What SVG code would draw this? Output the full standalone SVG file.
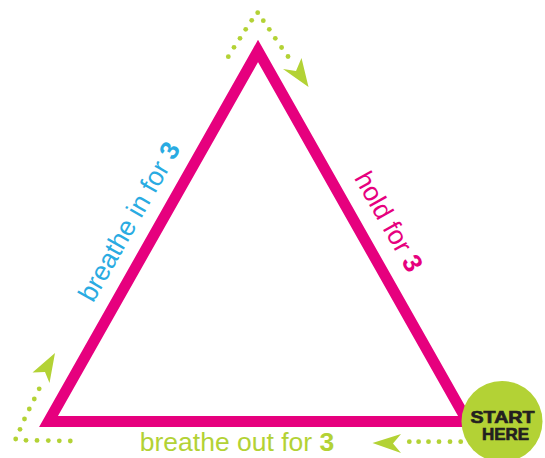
<svg xmlns="http://www.w3.org/2000/svg" width="545" height="458" viewBox="0 0 545 458">
<style>
.dot{fill:#b3d235}
.head{fill:#b3d235}
.lbl{font-family:"Liberation Sans",Arial,sans-serif;font-size:26.5px}
.num{font-weight:bold}
.start{font-family:"Liberation Sans",Arial,sans-serif;font-size:17px;font-weight:bold;fill:#231f20;stroke:#231f20;stroke-width:0.7}
</style>
<rect width="545" height="458" fill="#ffffff"/>
<g id="triangle">
<polygon points="258,51 48.5,421.5 467.5,421.5" fill="none" stroke="#e6007e" stroke-width="11" stroke-linejoin="miter" stroke-miterlimit="6"/>
</g>
<g id="connectors">
<g id="arrow-top">
<circle class="dot" cx="228.3" cy="56.7" r="2.4"/>
<circle class="dot" cx="234" cy="47.3" r="2.4"/>
<circle class="dot" cx="240" cy="38.3" r="2.4"/>
<circle class="dot" cx="245.7" cy="29.3" r="2.4"/>
<circle class="dot" cx="251.7" cy="20.3" r="2.4"/>
<circle class="dot" cx="257.7" cy="12.7" r="2.4"/>
<circle class="dot" cx="263.3" cy="20.7" r="2.4"/>
<circle class="dot" cx="269.3" cy="29.3" r="2.4"/>
<circle class="dot" cx="275.3" cy="38.3" r="2.4"/>
<circle class="dot" cx="281.6" cy="47.5" r="2.4"/>
<circle class="dot" cx="288" cy="56.5" r="2.4"/>
<polygon class="head" points="301.5,58 308.5,87 283,69 296,71"/>
</g>
<g id="arrow-left">
<circle class="dot" cx="15.7" cy="439" r="2.4"/>
<circle class="dot" cx="26" cy="440.3" r="2.4"/>
<circle class="dot" cx="37" cy="440.4" r="2.4"/>
<circle class="dot" cx="48.3" cy="440.6" r="2.4"/>
<circle class="dot" cx="59.3" cy="440.8" r="2.4"/>
<circle class="dot" cx="70.3" cy="441" r="2.4"/>
<circle class="dot" cx="20" cy="429.3" r="2.4"/>
<circle class="dot" cx="24.5" cy="419" r="2.4"/>
<circle class="dot" cx="29.3" cy="409" r="2.4"/>
<circle class="dot" cx="34.3" cy="399" r="2.4"/>
<circle class="dot" cx="39.2" cy="388.8" r="2.4"/>
<polygon class="head" points="55,353 49.5,383 45,372 32.5,372.5"/>
</g>
<g id="arrow-bottom">
<circle class="dot" cx="409.3" cy="441.7" r="2.4"/>
<circle class="dot" cx="418.6" cy="441.7" r="2.4"/>
<circle class="dot" cx="428.5" cy="441.7" r="2.4"/>
<circle class="dot" cx="439" cy="441.7" r="2.4"/>
<circle class="dot" cx="450" cy="441.7" r="2.4"/>
<circle class="dot" cx="460.7" cy="441.7" r="2.4"/>
<polygon class="head" points="372.5,443 401,434 393,443.5 401,453"/>
</g>
</g>
<g id="label-in">
<text class="lbl" fill="#29abe2" text-anchor="middle" transform="translate(137,226) rotate(-60.5)">breathe in for <tspan class="num">3</tspan></text>
</g>
<g id="label-hold">
<text class="lbl" fill="#e6007e" text-anchor="middle" transform="translate(381,226) rotate(60.5)">hold for <tspan class="num">3</tspan></text>
</g>
<g id="label-out">
<text class="lbl" fill="#b3d235" text-anchor="middle" x="237" y="451">breathe out for <tspan class="num">3</tspan></text>
</g>
<g id="start">
<circle cx="502" cy="421.5" r="40.5" fill="#b3d235"/>
<text class="start" x="502.5" y="422.5" text-anchor="middle" textLength="64" lengthAdjust="spacingAndGlyphs">START</text>
<text class="start" x="505.5" y="440" text-anchor="middle" textLength="47" lengthAdjust="spacingAndGlyphs">HERE</text>
</g>
</svg>
